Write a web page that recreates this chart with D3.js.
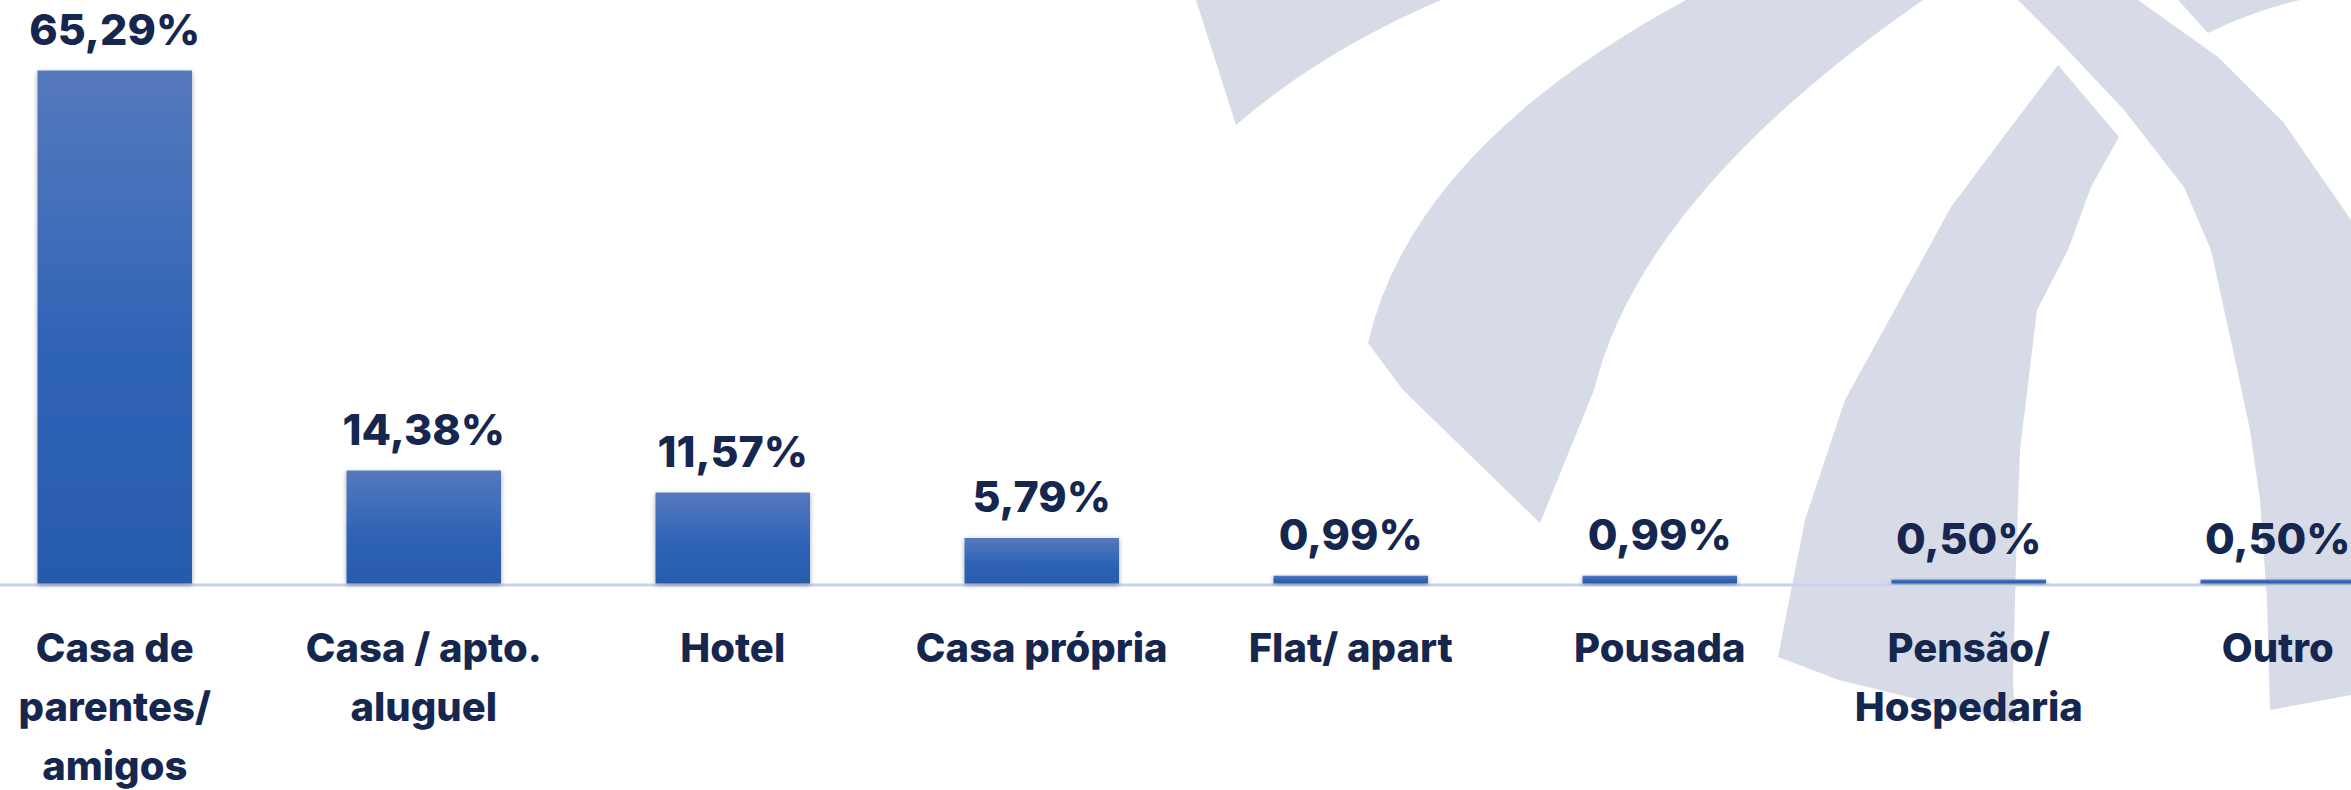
<!DOCTYPE html>
<html>
<head>
<meta charset="utf-8">
<script src="https://cdn.jsdelivr.net/npm/d3@7"></script>
<style>
  body { margin: 0; background: #fff; }
  svg { display: block; }
  .value { font-family: Inter, "Open Sans", sans-serif; font-weight: 800; fill: #15264f; }
  .cat { font-family: Inter, "Open Sans", sans-serif; font-weight: 800; fill: #15264f; }
</style>
</head>
<body>
<div id="viz_div"></div>
<script>
// DATA
// ---------------------------------------------------------------------------------------------------------------------------------
const categories = ["Casa de parentes/ amigos", "Casa / apto. aluguel", "Hotel", "Casa própria",
  "Flat/ apart", "Pousada", "Pensão/ Hospedaria", "Outro"];
const labelLines = [["Casa de", "parentes/", "amigos"], ["Casa / apto.", "aluguel"], ["Hotel"], ["Casa própria"],
  ["Flat/ apart"], ["Pousada"], ["Pensão/", "Hospedaria"], ["Outro"]];
const values = [65.29, 14.38, 11.57, 5.79, 0.99, 0.99, 0.50, 0.50];

// SCALES AND OTHER VARIABLES
// ---------------------------------------------------------------------------------------------------------------------------------
const width = 2351, height = 790;
const baseline = 583.5;
const step = 309;

const x = d3.scaleBand()
  .domain(categories)
  .range([-39.75, -39.75 + step * categories.length])
  .paddingInner(0.5)
  .paddingOuter(0.25);

const y = d3.scaleLinear([0, 70], [baseline, baseline - 70 * (513 / 65.29)]);

const pt = d3.formatLocale({ decimal: ",", thousands: ".", grouping: [3], currency: ["", ""] });
const fmt = v => pt.format(".2f")(v) + "%";

const svg = d3.select("#viz_div")
  .append("svg")
  .attr("width", width)
  .attr("height", height);

const defs = svg.append("defs");
const grad = defs.append("linearGradient")
  .attr("id", "barGrad")
  .attr("x1", 0).attr("y1", 0).attr("x2", 0).attr("y2", 1);
grad.append("stop").attr("offset", "0%").attr("stop-color", "#5679be");
grad.append("stop").attr("offset", "55%").attr("stop-color", "#2f63b6");
grad.append("stop").attr("offset", "100%").attr("stop-color", "#275aad");

const shadow = defs.append("filter")
  .attr("id", "shadow")
  .attr("x", "-20%").attr("y", "-20%").attr("width", "140%").attr("height", "140%");
shadow.append("feDropShadow")
  .attr("dx", 0).attr("dy", 1.5)
  .attr("stdDeviation", 2.5)
  .attr("flood-color", "#000")
  .attr("flood-opacity", 0.35);

// BACKGROUND LOGO (watermark)
// ---------------------------------------------------------------------------------------------------------------------------------
const logo = svg.append("g").attr("fill", "#d7dbe7");
logo.append("path").attr("d", "M1196,0 L1441,0 Q1320,52 1236,125 Z");
logo.append("path").attr("d", "M1686,0 L1923,0 Q1642,195 1594,390 L1540,523 L1403,390 L1368,343 Q1413,148 1686,0 Z");
logo.append("path").attr("d", d3.line().curve(d3.curveLinearClosed)([
  [2058, 65], [2001, 140], [1951, 207], [1900, 300], [1845, 400], [1805, 520], [1778, 657],
  [1839, 680], [2015, 723], [2013, 680], [2016, 560], [2020, 450], [2037, 310], [2068, 250],
  [2091, 187], [2119, 137]
]));
logo.append("path").attr("d", d3.line().curve(d3.curveLinearClosed)([
  [2018, 0], [2061, 43], [2124, 110], [2184, 187], [2211, 250], [2233, 350], [2250, 430],
  [2260, 500], [2267, 600], [2270, 710], [2351, 695], [2351, 220], [2284, 123], [2218, 57], [2138, 0]
]));
logo.append("path").attr("d", "M2178,0 L2300,0 Q2250,12 2208,33 Z");

// AXIS LINE
// ---------------------------------------------------------------------------------------------------------------------------------
svg.append("line")
  .attr("x1", 0).attr("x2", width)
  .attr("y1", baseline + 1.5).attr("y2", baseline + 1.5)
  .attr("stroke", "#c8d3ee")
  .attr("stroke-width", 3);

// BARS
// ---------------------------------------------------------------------------------------------------------------------------------
svg.append("g")
  .selectAll("rect")
  .data(values)
  .enter().append("rect")
  .attr("x", (d, i) => x(categories[i]))
  .attr("y", d => y(d))
  .attr("width", x.bandwidth())
  .attr("height", d => y(0) - y(d))
  .attr("fill", "url(#barGrad)")
  .attr("filter", "url(#shadow)");

// VALUE LABELS
// ---------------------------------------------------------------------------------------------------------------------------------
svg.append("g")
  .selectAll("text")
  .data(values)
  .enter().append("text")
  .attr("class", "value")
  .attr("x", (d, i) => x(categories[i]) + x.bandwidth() / 2)
  .attr("y", d => y(d) - 26)
  .attr("text-anchor", "middle")
  .style("font-size", "43px")
  .text(d => fmt(d));

// CATEGORY LABELS
// ---------------------------------------------------------------------------------------------------------------------------------
const cats = svg.append("g")
  .selectAll("text")
  .data(categories)
  .enter().append("text")
  .attr("class", "cat")
  .attr("x", d => x(d) + x.bandwidth() / 2)
  .attr("y", 662)
  .attr("text-anchor", "middle")
  .style("font-size", "40px");

cats.selectAll("tspan")
  .data((d, i) => labelLines[i])
  .enter().append("tspan")
  .attr("x", function () { return d3.select(this.parentNode).attr("x"); })
  .attr("dy", (d, i) => i === 0 ? 0 : 59)
  .text(d => d);
</script>
</body>
</html>
